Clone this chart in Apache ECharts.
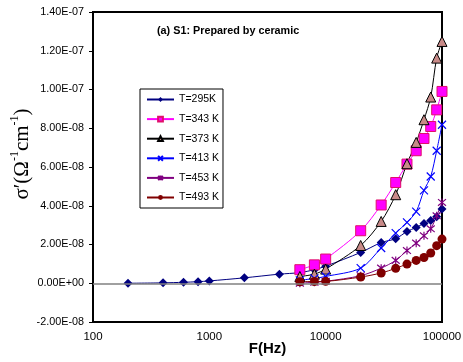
<!DOCTYPE html>
<html><head><meta charset="utf-8">
<script src="https://cdn.jsdelivr.net/npm/echarts@6/dist/echarts.min.js"></script>
<style>html,body{margin:0;padding:0;background:#fff}#c{width:463px;height:362px}</style>
</head><body><div id="c"></div>
<script>
const freqA = [200, 400, 600, 800, 1000, 2000, 4000, 6000, 8000, 10000, 20000, 30000, 40000, 50000, 60000, 70000, 80000, 90000, 100000];
const s295 = [0.0, 0.02e-8, 0.05e-8, 0.08e-8, 0.12e-8, 0.28e-8, 0.47e-8, 0.55e-8, 0.7e-8, 0.88e-8, 1.59e-8, 2.1e-8, 2.3e-8, 2.67e-8, 2.88e-8, 3.09e-8, 3.24e-8, 3.43e-8, 3.83e-8];
const freqB = [6000, 8000, 10000, 20000, 30000, 40000, 50000, 60000, 70000, 80000, 90000, 100000];
const s343 = [0.7e-8, 0.95e-8, 1.25e-8, 2.71e-8, 4.04e-8, 5.2e-8, 6.15e-8, 6.84e-8, 7.47e-8, 8.09e-8, 8.95e-8, 9.9e-8];
const s373 = [0.35e-8, 0.47e-8, 0.73e-8, 1.95e-8, 3.19e-8, 4.57e-8, 6.17e-8, 7.27e-8, 8.44e-8, 9.61e-8, 11.62e-8, 12.48e-8];
const s413 = [0.15e-8, 0.25e-8, 0.35e-8, 0.78e-8, 1.82e-8, 2.59e-8, 3.14e-8, 3.7e-8, 4.79e-8, 5.51e-8, 6.84e-8, 8.18e-8];
const s453 = [0.0, 0.05e-8, 0.1e-8, 0.39e-8, 0.78e-8, 1.18e-8, 1.69e-8, 2.07e-8, 2.45e-8, 2.81e-8, 3.48e-8, 4.17e-8];
const s493 = [0.08e-8, 0.09e-8, 0.1e-8, 0.32e-8, 0.53e-8, 0.77e-8, 0.99e-8, 1.18e-8, 1.33e-8, 1.56e-8, 1.94e-8, 2.28e-8];
const names = ['T=295K', 'T=343 K', 'T=373 K', 'T=413 K', 'T=453 K', 'T=493 K'];
const yTicks = [-2e-8, 0, 2e-8, 4e-8, 6e-8, 8e-8, 1e-7, 1.2e-7, 1.4e-7];

function pairs(xs, ys){ return xs.map((x,i)=>[x, ys[i]]); }
function fmtE(v){
  if (Math.abs(v) < 1e-15) return '0.00E+00';
  const s = v.toExponential(2).split('e');
  let e = parseInt(s[1],10);
  const sign = e < 0 ? '-' : '+';
  e = Math.abs(e);
  return s[0] + 'E' + sign + (e < 10 ? '0' + e : '' + e);
}
const xPath = 'path://M0,0 L10,10 M10,0 L0,10';
const starPath = 'path://M0,0 L10,10 M10,0 L0,10 M5,-1 L5,11';
const FONT = 'Liberation Sans, Arial, sans-serif';
const SERIF = 'Liberation Serif, Times New Roman, serif';

function ser(name, data, color, symbol, size, fill, border, bw){
  return {
    name, type:'line', data, smooth:0.3, symbol, symbolSize:size,
    lineStyle:{color, width:1},
    itemStyle:{color:fill, borderColor:border, borderWidth:bw},
    emphasis:{disabled:true}, animation:false, z: 3
  };
}
const chart = echarts.init(document.getElementById('c'));
const series = [
  ser(names[0], pairs(freqA, s295), '#000080', 'diamond', 9, '#000080', '#000080', 0),
  ser(names[1], pairs(freqB, s343), '#FF00FF', 'rect', 10, '#FF00FF', '#E0106A', 1),
  ser(names[2], pairs(freqB, s373), '#000000', 'triangle', 10, '#C88A88', '#000000', 1),
  ser(names[3], pairs(freqB, s413), '#0000FF', xPath, 8, 'none', '#0000FF', 1.2),
  ser(names[4], pairs(freqB, s453), '#800080', starPath, 8, 'none', '#800080', 1.2),
  ser(names[5], pairs(freqB, s493), '#800000', 'circle', 9, '#800000', '#800000', 0)
];
series[0].markLine = {silent:true, symbol:'none', label:{show:false}, animation:false,
  lineStyle:{color:'#808080', width:1.5, type:'solid'}, data:[{yAxis:0}]};

chart.setOption({
  animation:false,
  backgroundColor:'#fff',
  textStyle:{fontFamily:FONT},
  grid:{left:93, right:21, top:12, bottom:40, show:true, borderColor:'#000', borderWidth:2,
    backgroundColor:'transparent', containLabel:false, outerBoundsMode:'none'},
  title:{text:'(a) S1: Prepared by ceramic', left:152, top:21,
    textStyle:{fontSize:10.8, fontWeight:'bold', color:'#000', fontFamily:FONT}},
  legend:{
    orient:'vertical', left:140, top:89,
    padding:[5,4,5,6], itemGap:8.6, itemWidth:27, itemHeight:6,
    borderColor:'#000', borderWidth:1, backgroundColor:'#fff',
    textStyle:{fontSize:10.5, color:'#000', fontFamily:FONT},
    data:names
  },
  xAxis:{
    type:'log', logBase:10, min:100, max:100000,
    name:'F(Hz)', nameLocation:'middle', nameGap:19, nameMoveOverlap:false,
    nameTextStyle:{fontSize:15, fontWeight:'bold', color:'#000', fontFamily:FONT},
    axisLine:{show:true, onZero:false, lineStyle:{color:'#000', width:2}},
    axisTick:{show:false}, minorTick:{show:false},
    splitLine:{show:false},
    axisLabel:{fontSize:11.5, color:'#000', margin:9, formatter:v=>String(Math.round(v)), showMaxLabel:true, showMinLabel:true}
  },
  yAxis:{
    type:'value', min:yTicks[0], max:yTicks[yTicks.length-1], interval:2e-8,
    name:'{b|σ\u2032(Ω}{s|-1}{b|cm}{s|-1}{b|)}', nameLocation:'middle', nameRotate:90, nameGap:60, nameMoveOverlap:false,
    nameTextStyle:{color:'#000', fontFamily:SERIF, padding:[0,0,0,26],
      rich:{b:{fontSize:21, fontFamily:SERIF, color:'#000', lineHeight:24, verticalAlign:'bottom'},
            s:{fontSize:12, fontFamily:SERIF, color:'#000', lineHeight:24, verticalAlign:'top', padding:[0,0,8,0]}}},
    axisLine:{show:true, lineStyle:{color:'#000', width:2}},
    axisTick:{show:true, inside:false, length:4, lineStyle:{color:'#000'}},
    splitLine:{show:false},
    axisLabel:{fontSize:10.8, color:'#000', margin:9, formatter:fmtE}
  },
  series
});
</script></body></html>
